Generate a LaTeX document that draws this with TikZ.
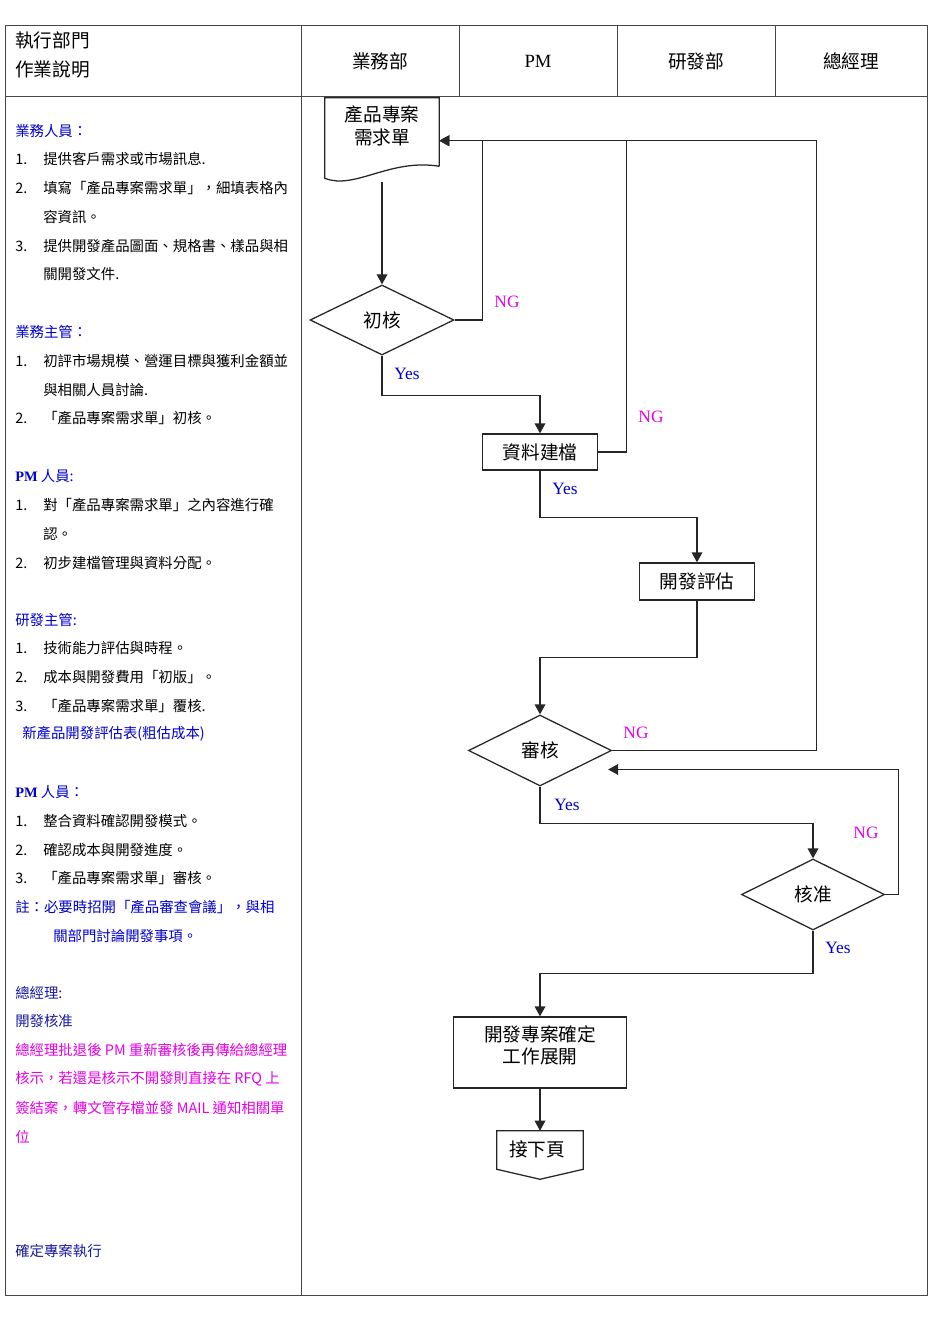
\documentclass[tikz,border=0pt]{standalone}
\usepackage{fontspec}
\setmainfont{Noto Sans CJK TC}
\newfontfamily\serifnum{Liberation Serif}
\usetikzlibrary{arrows.meta,shapes.geometric,calc}
\definecolor{hblue}{RGB}{0,0,205}
\definecolor{nblue}{RGB}{25,25,160}
\definecolor{pinkm}{RGB}{230,0,230}
\definecolor{tline}{RGB}{70,70,70}
\tikzset{
  lt/.style={anchor=west,inner sep=0pt,font=\fontsize{10.8}{12}\selectfont,text=black},
  hd/.style={lt,text=hblue},
  nv/.style={lt,text=nblue},
  pk/.style={lt,text=pinkm},
  colh/.style={inner sep=0pt,font=\fontsize{14}{16}\selectfont},
  procbox/.style={draw=black!85,line width=0.95pt,rectangle,inner sep=0pt,font=\fontsize{14}{17}\selectfont},
  decis/.style={draw=black!85,line width=0.95pt,diamond,aspect=2.05,inner sep=0pt,font=\fontsize{14}{17}\selectfont},
  flw/.style={draw=black!85,line width=0.95pt},
  arr/.style={flw,-{Triangle[length=7.5pt,width=8pt]}},
  nglab/.style={inner sep=0pt,text=pinkm,font=\serifnum\fontsize{13}{15}\selectfont},
  yeslab/.style={inner sep=0pt,text=hblue,font=\serifnum\fontsize{13}{15}\selectfont},
}
\begin{document}
\begin{tikzpicture}[x=0.75pt,y=-0.75pt]
\useasboundingbox (0,0) rectangle (950,1344);
% table
\draw[tline,line width=0.75pt] (5,26) rectangle (927,1295);
\draw[tline,line width=0.75pt] (5,97) -- (927,97);
\draw[tline,line width=0.75pt] (301,26) -- (301,1295);
\draw[tline,line width=0.75pt] (459,26) -- (459,97);
\draw[tline,line width=0.75pt] (617,26) -- (617,97);
\draw[tline,line width=0.75pt] (775,26) -- (775,97);
% header
\node[colh,anchor=west] (hA) at (15,40) {執行部門};
\node[colh,anchor=west] (hB) at (15,69) {作業說明};
\node[colh] (h1) at (380,61) {業務部};
\node[colh,font=\serifnum\fontsize{14}{16}\selectfont] (h2) at (538,61) {PM};
\node[colh] (h3) at (696,61) {研發部};
\node[colh] (h4) at (851,61) {總經理};
% left column
\node[hd] (a0) at (15,131) {業務人員：};
\node[lt] (a1n) at (15,159) {1.};\node[lt] (a1) at (43,159) {提供客戶需求或市場訊息.};
\node[lt] (a2n) at (15,188) {2.};\node[lt] (a2) at (43,188) {填寫「產品專案需求單」，細填表格內};
\node[lt] (a2b) at (43,217) {容資訊。};
\node[lt] (a3n) at (15,246) {3.};\node[lt] (a3) at (43,246) {提供開發產品圖面、規格書、樣品與相};
\node[lt] (a3b) at (43,274) {關開發文件.};
\node[hd] (b0) at (15,332) {業務主管：};
\node[lt] (b1n) at (15,361) {1.};\node[lt] (b1) at (43,361) {初評市場規模、營運目標與獲利金額並};
\node[lt] (b1b) at (43,390) {與相關人員討論.};
\node[lt] (b2n) at (15,418) {2.};\node[lt] (b2) at (43,418) {「產品專案需求單」初核。};
\node[hd] (c0) at (15,476) {{\serifnum\bfseries PM} 人員:};
\node[lt] (c1n) at (15,505) {1.};\node[lt] (c1) at (43,505) {對「產品專案需求單」之內容進行確};
\node[lt] (c1b) at (43,534) {認。};
\node[lt] (c2n) at (15,563) {2.};\node[lt] (c2) at (43,563) {初步建檔管理與資料分配。};
\node[hd] (d0) at (15,620) {研發主管:};
\node[lt] (d1n) at (15,648) {1.};\node[lt] (d1) at (43,648) {技術能力評估與時程。};
\node[lt] (d2n) at (15,677) {2.};\node[lt] (d2) at (43,677) {成本與開發費用「初版」。};
\node[lt] (d3n) at (15,706) {3.};\node[lt] (d3) at (43,706) {「產品專案需求單」覆核.};
\node[hd] (d4) at (22,734) {新產品開發評估表(粗估成本)};
\node[hd] (e0) at (15,792) {{\serifnum\bfseries PM} 人員：};
\node[lt] (e1n) at (15,821) {1.};\node[lt] (e1) at (43,821) {整合資料確認開發模式。};
\node[lt] (e2n) at (15,850) {2.};\node[lt] (e2) at (43,850) {確認成本與開發進度。};
\node[lt] (e3n) at (15,878) {3.};\node[lt] (e3) at (43,878) {「產品專案需求單」審核。};
\node[hd] (e4) at (15,907) {註：必要時招開「產品審查會議」，與相};
\node[hd] (e5) at (53,936) {關部門討論開發事項。};
\node[nv] (f0) at (15,993) {總經理:};
\node[nv] (f1) at (15,1021) {開發核准};
\node[pk] (f2) at (15,1050) {總經理批退後 PM 重新審核後再傳給總經理};
\node[pk] (f3) at (15,1079) {核示，若還是核示不開發則直接在 RFQ 上};
\node[pk] (f4) at (15,1108) {簽結案，轉文管存檔並發 MAIL 通知相關單};
\node[pk] (f5) at (15,1137) {位};
\node[nv] (f6) at (15,1251) {確定專案執行};
% flowchart nodes
\node[inner sep=0pt,minimum width=85.5pt,minimum height=42pt,align=center,font=\fontsize{14}{17}\selectfont] (doc) at (382,126) {產品專案\\需求單};
\draw[flw] ($(doc.south east)+(0,12)$) -- (doc.north east) -- (doc.north west) -- ($(doc.south west)+(0,24)$)
  .. controls ($(doc.south west)+(30,36)$) and ($(doc.south east)+(-50,4)$) .. ($(doc.south east)+(0,12)$);
\coordinate (docin) at ($(doc.north east)+(0,43)$);
\coordinate (docout) at ($(doc.south)+(0,28)$);
\node[decis,minimum width=108pt,minimum height=52.5pt] (chu) at (382,320) {初核};
\node[procbox,minimum width=86.25pt,minimum height=27pt] (zl) at (540,452) {資料建檔};
\node[procbox,minimum width=86.25pt,minimum height=27.75pt] (kf) at (697,581.5) {開發評估};
\node[decis,minimum width=107.25pt,minimum height=53.25pt] (sh) at (540,750.5) {審核};
\node[decis,minimum width=107.25pt,minimum height=53.25pt] (hz) at (813,894.5) {核准};
\node[procbox,minimum width=129.75pt,minimum height=53.25pt] (fin) at (540,1052.5) {};
\node[inner sep=0pt,align=center,font=\fontsize{14}{16.5}\selectfont] (fintxt) at (540,1045) {開發專案確定\\工作展開};
\node[inner sep=0pt,minimum width=64.5pt,minimum height=28.5pt,font=\fontsize{14}{17}\selectfont] (off) at (540,1150) {};
\draw[flw] (off.north west) -- (off.north east) -- (off.south east) -- ($(off.south)+(0,10)$) -- (off.south west) -- cycle;
\node[inner sep=0pt,font=\fontsize{14}{17}\selectfont] (offtxt) at (537,1149) {接下頁};
% connectors
\draw[arr] (docout) -- (chu.north);
\draw[arr] (chu.east) -| ($(docin)+(43,0)$) -- (docin);
\draw[flw] (zl.east) -| ($(docin)+(187,0)$);
\draw[arr] (sh.east) -| ($(docin)+(377,0)$) -- (docin);
\draw[arr] (chu.south) -- ++(0,40) -| (zl.north);
\draw[arr] (zl.south) -- ++(0,47) -| (kf.north);
\draw[arr] (kf.south) -- ++(0,57) -| (sh.north);
\draw[arr] (sh.south) -- ++(0,37) -| (hz.north);
\coordinate (shin) at ($(sh.east)+(-4,19)$);
\draw[arr] (hz.east) -- ++(13,0) |- (shin);
\draw[arr] (hz.south) -- ++(0,43) -| (fin.north);
\draw[arr] (fin.south) -- (off.north);
% labels
\node[nglab] (ng1) at (507,302) {NG};
\node[nglab] (ng2) at (651,417) {NG};
\node[nglab] (ng3) at (636,733) {NG};
\node[nglab] (ng4) at (866,833) {NG};
\node[yeslab] (y1) at (407,374) {Yes};
\node[yeslab] (y2) at (565,489) {Yes};
\node[yeslab] (y3) at (567,805) {Yes};
\node[yeslab] (y4) at (838,948) {Yes};
\end{tikzpicture}
\end{document}
